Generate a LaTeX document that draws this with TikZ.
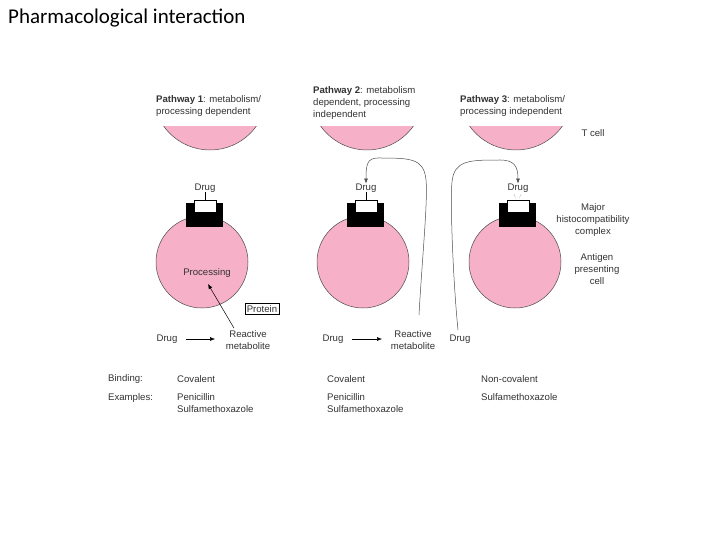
\documentclass[tikz,border=0pt]{standalone}
\usepackage{fontspec}
\setmainfont{Liberation Sans}
\newfontfamily\titlefont{Carlito}
\usetikzlibrary{arrows.meta}
\definecolor{cellpink}{RGB}{246,176,200}
\definecolor{txt}{RGB}{50,50,50}
\begin{document}
\begin{tikzpicture}[x=1pt,y=-1pt,
  lbl/.style={font=\fontsize{9.6}{12.2}\selectfont,text=txt,inner sep=0pt},
  cell/.style={fill=cellpink,draw=black!70,line width=0.5pt},
  arr/.style={-{Latex[length=5pt,width=4pt]},line width=0.5pt},
  curve/.style={line width=0.5pt,draw=black!70}]
\useasboundingbox (0,0) rectangle (720,540);
\node[anchor=north west,inner sep=0pt,font=\titlefont\fontsize{21}{24}\selectfont] (title) at (8,9) {Pharmacological interaction};

% T cells (partial) and APCs
\foreach \n/\cx/\tx in {1/202/210,2/363/367,3/515/516}{
  \begin{scope}
    \clip (\tx-60,127) rectangle (\tx+60,160);
    \draw[cell] (\tx,93) circle (57);
  \end{scope}
  \draw[cell] (\cx,262) circle (46);
  \fill[black] (\cx-16,203) rectangle (\cx+21,227);
  \draw[fill=white,line width=0.4pt] (\cx-8,200) rectangle (\cx+14,212);
  \node[lbl] (drug\n) at (\cx+3,188) {Drug};
}
\draw[line width=0.4pt] (drug1.south) -- (205,200);
\draw[line width=0.4pt] (drug2.south) -- (366,200);
\draw[line width=0.3pt,densely dotted] (514,194) -- (516,199) (521,194) -- (519,199);

\node[lbl,anchor=west,align=left] (p1) at (156,106) {\textbf{Pathway 1}: metabolism/\\processing dependent};
\node[lbl,anchor=west,align=left] (p2) at (313,103) {\textbf{Pathway 2}: metabolism\\dependent, processing\\independent};
\node[lbl,anchor=west,align=left] (p3) at (460,106) {\textbf{Pathway 3}: metabolism/\\processing independent};
\node[lbl] (tcell) at (593,133) {T cell};
\node[lbl,align=center] (mhc) at (593,220) {Major\\histocompatibility\\complex};
\node[lbl,align=center] (apc) at (597,269) {Antigen\\presenting\\cell};

% Pathway 1
\node[lbl] (proc) at (207,273) {Processing};
\node[lbl,draw,inner sep=2pt] (prot) at (262,309) {Protein};
\node[lbl] (d1) at (167,339) {Drug};
\node[lbl,align=center] (rm1) at (248,340) {Reactive\\metabolite};
\draw[arr] (d1.east) ++(8,0) coordinate (a1) -- (215,339) coordinate (b1);
\draw[arr] (rm1.north) ++(-14,-2) coordinate (c1) -- (208,284);

% Pathway 2
\node[lbl] (d2) at (333,339) {Drug};
\node[lbl,align=center] (rm2) at (413,340) {Reactive\\metabolite};
\draw[arr] (d2.east) ++(8,0) -- (382,339);
\draw[curve,-{Latex[length=5pt,width=4pt]}] (419,315) .. controls (422,260) and (428,200) .. (426,180)
  .. controls (424,158) and (410,158) .. (378,158)
  .. controls (367,158) and (366,165) .. (drug2.north);

% Pathway 3
\node[lbl] (d3) at (460,339) {Drug};
\draw[curve,-{Latex[length=5pt,width=4pt]}] (458,330) .. controls (453,280) and (450,200) .. (452,182)
  .. controls (454,160) and (470,160) .. (500,160)
  .. controls (514,160) and (518,166) .. (drug3.north);

% Binding / examples
\node[lbl,anchor=west] (bind) at (108,379) {Binding:};
\node[lbl,anchor=north west] (ex) at (108,393) {Examples:};
\node[lbl,anchor=west] (b1t) at (177,379) {Covalent};
\node[lbl,anchor=west] (b2t) at (327,379) {Covalent};
\node[lbl,anchor=west] (b3t) at (481,379) {Non-covalent};
\node[lbl,anchor=north west,align=left] (e1) at (177,393) {Penicillin\\Sulfamethoxazole};
\node[lbl,anchor=north west,align=left] (e2) at (327,393) {Penicillin\\Sulfamethoxazole};
\node[lbl,anchor=north west] (e3) at (481,393) {Sulfamethoxazole};
\end{tikzpicture}
\end{document}
